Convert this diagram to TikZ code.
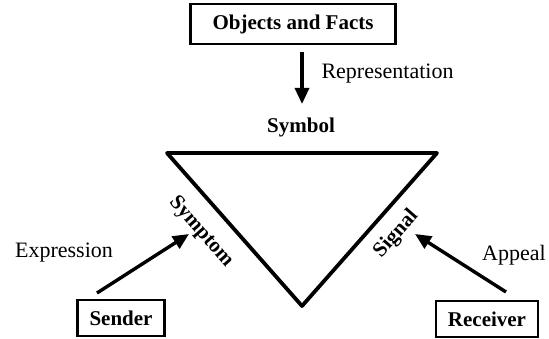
\documentclass[tikz,border=0pt]{standalone}
\usepackage{fontspec}
\setmainfont{Liberation Serif}
\usetikzlibrary{arrows.meta}
\begin{document}
\begin{tikzpicture}[x=1pt, y=-1pt,
    box/.style={draw, rectangle, line width=2.4pt, font=\fontsize{21}{24}\selectfont\bfseries, inner sep=0pt},
    label/.style={font=\fontsize{22}{24}\selectfont},
    edgelabel/.style={font=\fontsize{21}{24}\selectfont\bfseries},
    bigarrow/.style={-{Triangle[length=16pt, width=14pt]}, line width=3.4pt}]
    \useasboundingbox (0, 0) rectangle (549, 339);

    \node[box, minimum width=205pt, minimum height=40pt] (objects) at (293, 24) {Objects and Facts};
    \node[box, minimum width=87pt, minimum height=36pt] (sender) at (121, 318) {Sender};
    \node[box, minimum width=102pt, minimum height=36pt] (receiver) at (487, 319) {Receiver};

    \node[label, anchor=west] (representation) at (318, 74) {Representation};
    \node[edgelabel] (symbol) at (301, 127) {Symbol};
    \node[label] (expression) at (64, 253) {Expression};
    \node[label] (appeal) at (514, 255) {Appeal};

    \coordinate (tl) at (167, 153);
    \coordinate (tr) at (437, 153);
    \coordinate (bot) at (302, 306);
    \draw[line width=3.8pt, line join=round] (tl) -- (tr) -- (bot) -- cycle;

    \path (tl) -- (bot) node[pos=0.40, sloped, below=14pt, edgelabel] (symptom) {Symptom};
    \path (bot) -- (tr) node[pos=0.57, sloped, below=10pt, edgelabel] (signal) {Signal};

    \coordinate (downtop) at (302, 52);
    \coordinate (downtip) at (302, 104);
    \coordinate (sendfoot) at (97, 293);
    \coordinate (sendtip) at (189, 234);
    \coordinate (recvfoot) at (506, 292);
    \coordinate (recvtip) at (415, 234);

    \draw[bigarrow] (downtop) -- (downtip);
    \draw[bigarrow] (sendfoot) -- (sendtip);
    \draw[bigarrow] (recvfoot) -- (recvtip);
\end{tikzpicture}
\end{document}
